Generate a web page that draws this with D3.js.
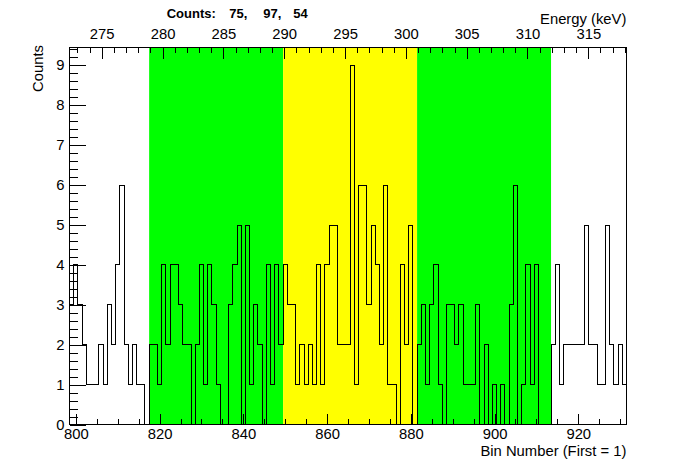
<!DOCTYPE html>
<html>
<head>
<meta charset="utf-8">
<script src="https://cdn.jsdelivr.net/npm/d3@7"></script>
<style>
  body { margin: 0; background: #fff; }
  svg text { font-family: "Liberation Sans", Arial, Helvetica, sans-serif; fill: #000; }
</style>
</head>
<body>
<div id="chart"></div>
<script>
// bin contents, bins are centred on integers, first one is 799
const firstBin = 799;
const counts = [
  3, 4, 3, 2, 1, 1, 1, 2, 1, 3, 2, 4, 6, 2, 1, 2, 1, 1, 0,
  // 818 - 849
  2, 2, 1, 4, 2, 4, 4, 3, 2, 2, 0, 2, 4, 1, 4, 3, 1, 0, 0, 3, 4, 5, 0, 5, 1, 3, 2, 0, 4, 1, 4, 2,
  // 850 - 881
  4, 3, 3, 1, 2, 1, 2, 1, 4, 1, 4, 5, 5, 2, 2, 2, 9, 1, 6, 6, 3, 5, 4, 2, 6, 1, 1, 0, 4, 2, 5, 0,
  // 882 - 913
  2, 3, 1, 3, 4, 1, 0, 3, 3, 2, 3, 1, 1, 1, 3, 0, 2, 0, 1, 0, 1, 0, 3, 6, 0, 1, 4, 1, 4, 0, 0, 0,
  // 914 - 931
  2, 4, 1, 2, 2, 2, 2, 2, 5, 2, 2, 1, 1, 5, 2, 1, 2, 1
];
const binRange = [798.5, 931.5];
const energyRange = [272.36, 318.13];
const yMax = 9.45;

// coloured regions (bin edges) and their counts
const regionEdges = [817.5, 849.5, 881.5, 913.5];
const regionColors = ["#00ff00", "#ffff00", "#00ff00"];
const regionCounts = [75, 97, 54];

const binTicks = [800, 820, 840, 860, 880, 900, 920];
const binMinorTicks = d3.range(805, 931, 5).filter(d => d % 20 !== 0);
const energyTicks = [275, 280, 285, 290, 295, 300, 305, 310, 315];
const energyMinorTicks = d3.range(273, 319).filter(d => d % 5 !== 0);
const countTicks = [0, 1, 2, 3, 4, 5, 6, 7, 8, 9];
const countMinorTicks = d3.range(0, 9.45, 0.2).filter(d => Math.abs(d - Math.round(d)) > 0.01);

const W = 696, H = 472;
const margin = { top: 47.2, right: 69.6, bottom: 47.2, left: 69.6 };
const width = W - margin.left - margin.right,
  height = H - margin.top - margin.bottom;

const svg = d3.select("#chart").append("svg")
  .attr("width", W).attr("height", H);

const g = svg.append("g")
  .attr("transform", "translate(" + margin.left + "," + margin.top + ")");

const x = d3.scaleLinear().domain(binRange).range([0, width]);
const xTop = d3.scaleLinear().domain(energyRange).range([0, width]);
const y = d3.scaleLinear().domain([0, yMax]).range([height, 0]);

// regions
g.selectAll(".region")
  .data(regionColors)
  .enter()
  .append("rect")
  .attr("x", (d, i) => x(regionEdges[i]))
  .attr("width", (d, i) => x(regionEdges[i + 1]) - x(regionEdges[i]))
  .attr("y", 0)
  .attr("height", height)
  .attr("fill", d => d);

// histogram outline
const points = counts.map((c, i) => [firstBin + i - 0.5, c]);
points.push([firstBin + counts.length - 0.5, counts[counts.length - 1]]);
const line = d3.line()
  .x(d => x(d[0]))
  .y(d => y(d[1]))
  .curve(d3.curveStepAfter);
g.append("path")
  .datum(points)
  .attr("d", line)
  .attr("fill", "none")
  .attr("stroke", "#000")
  .attr("stroke-width", 1)
  .attr("shape-rendering", "crispEdges");

function styleAxis(sel, size) {
  sel.select(".domain").remove();
  sel.selectAll("line").attr("stroke", "#000").attr("shape-rendering", "crispEdges");
  sel.selectAll("text").style("font-size", size + "px");
  sel.attr("font-family", null).attr("font-size", null);
}

const fs = 14.8;

// bottom axis
g.append("g")
  .attr("transform", "translate(0," + height + ")")
  .call(d3.axisBottom(x).tickValues(binTicks).tickSizeInner(-11.3).tickSizeOuter(0).tickPadding(3.8))
  .call(s => styleAxis(s, fs));
g.append("g")
  .attr("transform", "translate(0," + height + ")")
  .call(d3.axisBottom(x).tickValues(binMinorTicks).tickFormat("").tickSizeInner(-5.7).tickSizeOuter(0))
  .call(s => styleAxis(s, fs));

// top axis (energy)
g.append("g")
  .call(d3.axisTop(xTop).tickValues(energyTicks).tickSizeInner(-12).tickSizeOuter(0).tickPadding(8.3))
  .call(s => styleAxis(s, fs));
g.append("g")
  .call(d3.axisTop(xTop).tickValues(energyMinorTicks).tickFormat("").tickSizeInner(-6).tickSizeOuter(0))
  .call(s => styleAxis(s, fs));

// left axis
g.append("g")
  .call(d3.axisLeft(y).tickValues(countTicks).tickSizeInner(-16.7).tickSizeOuter(0).tickPadding(5))
  .call(s => styleAxis(s, fs));
g.append("g")
  .call(d3.axisLeft(y).tickValues(countMinorTicks).tickFormat("").tickSizeInner(-8.4).tickSizeOuter(0))
  .call(s => styleAxis(s, fs));

// frame
g.append("rect")
  .attr("width", width).attr("height", height)
  .attr("fill", "none").attr("stroke", "#000")
  .attr("shape-rendering", "crispEdges");

// titles
svg.append("text")
  .attr("x", margin.left + width)
  .attr("y", 456)
  .attr("text-anchor", "end")
  .style("font-size", fs + "px")
  .text("Bin Number (First = 1)");

svg.append("text")
  .attr("x", margin.left + width)
  .attr("y", 24)
  .attr("text-anchor", "end")
  .style("font-size", fs + "px")
  .text("Energy (keV)");

svg.append("text")
  .attr("transform", "translate(43.3,45) rotate(-90)")
  .attr("text-anchor", "end")
  .style("font-size", fs + "px")
  .text("Counts");

const title = svg.append("text")
  .attr("y", 18.3)
  .style("font-size", "13px")
  .style("font-weight", "bold");
const titleX = [166.7, 229.3, 263.3, 293.3];
const titleParts = ["Counts:"].concat(regionCounts.map((c, i) => c + (i < regionCounts.length - 1 ? "," : "")));
title.selectAll("tspan")
  .data(titleParts)
  .enter()
  .append("tspan")
  .attr("x", (d, i) => titleX[i])
  .text(d => d);
</script>
</body>
</html>
